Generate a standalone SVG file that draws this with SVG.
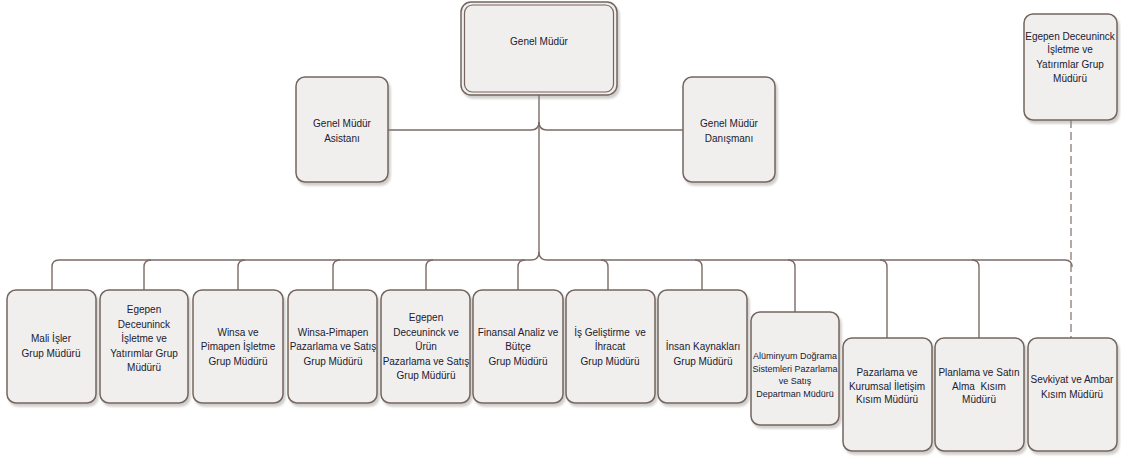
<svg xmlns="http://www.w3.org/2000/svg" width="1121" height="459" viewBox="0 0 1121 459">
<defs>
<filter id="sh" x="-10%" y="-10%" width="130%" height="130%">
<feDropShadow dx="2" dy="3" stdDeviation="1.2" flood-color="#8a8480" flood-opacity="0.4"/>
</filter>
<style>
.box{fill:#f1efee;stroke:#74655f;stroke-width:1.5;filter:url(#sh)}
.inner{fill:none;stroke:#74655f;stroke-width:1.2}
.ln{fill:none;stroke:#7b6b66;stroke-width:1.4}
.dash{fill:none;stroke:#8a7a75;stroke-width:1.3;stroke-dasharray:8 4}
text{font-family:"Liberation Sans",Arial,sans-serif;font-size:10px;fill:#20202e;text-anchor:middle}
.sm{font-size:9px}
.pre{white-space:pre}
</style>
</defs>
<rect width="1121" height="459" fill="#ffffff"/>
<g id="connectors">
<path class="ln" d="M539,95 V252"/>
<path class="ln" d="M388,130 H531 Q539,130 539,122"/>
<path class="ln" d="M683,130 H547 Q539,130 539,122"/>
<path class="ln" d="M52,290 V267 Q52,260 59,260 H531 Q539,260 539,252"/>
<path class="ln" d="M539,252 Q539,260 547,260 H1065 Q1072,260 1072,267"/>
<path class="ln" d="M151,260 Q144,260 144,267 V290"/>
<path class="ln" d="M245,260 Q238,260 238,267 V290"/>
<path class="ln" d="M340,260 Q333,260 333,267 V290"/>
<path class="ln" d="M433,260 Q426,260 426,267 V290"/>
<path class="ln" d="M525,260 Q518,260 518,267 V290"/>
<path class="ln" d="M601,260 Q608,260 608,267 V290"/>
<path class="ln" d="M695,260 Q702,260 702,267 V290"/>
<path class="ln" d="M788,260 Q795,260 795,267 V312"/>
<path class="ln" d="M880,260 Q887,260 887,267 V338"/>
<path class="ln" d="M972,260 Q979,260 979,267 V338"/>
<path class="dash" d="M1071,120 V338"/>
</g>
<g id="genel-mudur">
<rect class="box" x="461" y="2" width="156" height="93" rx="10"/>
<rect class="inner" x="464.5" y="5" width="149" height="87" rx="8"/>
<text x="539" y="45">Genel Müdür</text>
</g>
<g id="asistan">
<rect class="box" x="296" y="77" width="92" height="105" rx="9"/>
<text x="342" y="127">Genel Müdür</text>
<text x="342" y="142">Asistanı</text>
</g>
<g id="danisman">
<rect class="box" x="683" y="77" width="92" height="105" rx="9"/>
<text x="729" y="127">Genel Müdür</text>
<text x="729" y="142">Danışmanı</text>
</g>
<g id="egepen-top">
<rect class="box" x="1024" y="14" width="93" height="106" rx="9"/>
<text x="1070" y="40">Egepen Deceuninck</text>
<text x="1070" y="53">İşletme ve</text>
<text x="1070" y="68">Yatırımlar Grup</text>
<text x="1070" y="82">Müdürü</text>
</g>
<g id="mali">
<rect class="box" x="7" y="290" width="89" height="113" rx="9"/>
<text x="51" y="342">Mali İşler</text>
<text x="51" y="357">Grup Müdürü</text>
</g>
<g id="egepen-isletme">
<rect class="box" x="100" y="290" width="88" height="113" rx="9"/>
<text x="144" y="313">Egepen</text>
<text x="144" y="328">Deceuninck</text>
<text x="144" y="342">İşletme ve</text>
<text x="144" y="357">Yatırımlar Grup</text>
<text x="144" y="371">Müdürü</text>
</g>
<g id="winsa-isletme">
<rect class="box" x="193" y="290" width="90" height="113" rx="9"/>
<text x="238" y="336">Winsa ve</text>
<text x="238" y="350">Pimapen İşletme</text>
<text x="238" y="365">Grup Müdürü</text>
</g>
<g id="winsa-pazarlama">
<rect class="box" x="288" y="290" width="89" height="113" rx="9"/>
<text x="333" y="336">Winsa-Pimapen</text>
<text x="333" y="350">Pazarlama ve Satış</text>
<text x="333" y="365">Grup Müdürü</text>
</g>
<g id="egepen-urun">
<rect class="box" x="381" y="290" width="89" height="113" rx="9"/>
<text x="426" y="321">Egepen</text>
<text x="426" y="336">Deceuninck ve</text>
<text x="426" y="350">Ürün</text>
<text x="426" y="365">Pazarlama ve Satış</text>
<text x="426" y="379">Grup Müdürü</text>
</g>
<g id="finansal">
<rect class="box" x="473" y="290" width="90" height="113" rx="9"/>
<text x="518" y="336">Finansal Analiz ve</text>
<text x="518" y="350">Bütçe</text>
<text x="518" y="365">Grup Müdürü</text>
</g>
<g id="is-gelistirme">
<rect class="box" x="566" y="290" width="89" height="113" rx="9"/>
<text class="pre" xml:space="preserve" x="610" y="336">İş Geliştirme  ve</text>
<text x="610" y="350">İhracat</text>
<text x="610" y="365">Grup Müdürü</text>
</g>
<g id="insan-kaynaklari">
<rect class="box" x="658" y="290" width="89" height="113" rx="9"/>
<text x="703" y="350">İnsan Kaynakları</text>
<text x="703" y="365">Grup Müdürü</text>
</g>
<g id="aluminyum">
<rect class="box" x="751" y="312" width="88" height="113" rx="9"/>
<text class="sm" x="795" y="359">Alüminyum Doğrama</text>
<text class="sm" x="795" y="372">Sistemleri Pazarlama</text>
<text class="sm" x="795" y="384">ve Satış</text>
<text class="sm" x="795" y="397">Departman Müdürü</text>
</g>
<g id="kurumsal">
<rect class="box" x="843" y="338" width="89" height="113" rx="9"/>
<text x="887" y="376">Pazarlama ve</text>
<text x="887" y="390">Kurumsal İletişim</text>
<text x="887" y="403">Kısım Müdürü</text>
</g>
<g id="planlama">
<rect class="box" x="935" y="338" width="89" height="113" rx="9"/>
<text x="979" y="376">Planlama ve Satın</text>
<text class="pre" xml:space="preserve" x="979" y="390">Alma  Kısım</text>
<text x="979" y="403">Müdürü</text>
</g>
<g id="sevkiyat">
<rect class="box" x="1028" y="338" width="89" height="113" rx="9"/>
<text x="1072" y="383">Sevkiyat ve Ambar</text>
<text x="1072" y="398">Kısım Müdürü</text>
</g>
</svg>
